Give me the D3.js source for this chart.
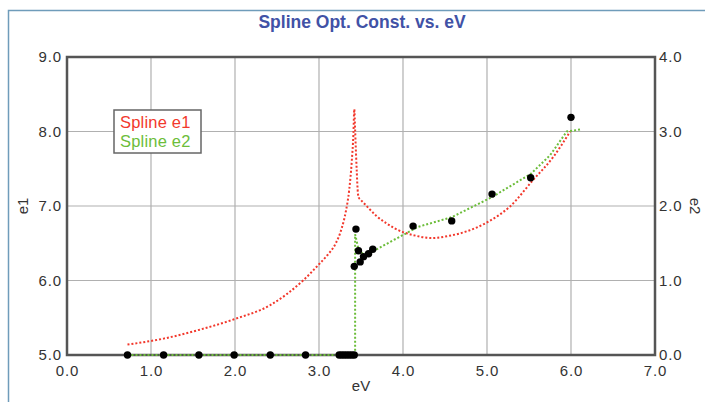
<!DOCTYPE html>
<html>
<head>
<meta charset="utf-8">
<script src="https://cdn.jsdelivr.net/npm/d3@7"></script>
<style>
  html, body { margin: 0; padding: 0; background: #fff; }
  svg { display: block; font-family: "Liberation Sans", Arial, sans-serif; }
</style>
</head>
<body>
<svg id="chart" width="705" height="402"></svg>
<script>
// Measured data points (eV, e2)
const pointEV = [0.72, 1.15, 1.57, 1.99, 2.42, 2.84, 3.24, 3.27, 3.30, 3.33, 3.36, 3.39, 3.42,
                 3.44, 3.42, 3.47, 3.49, 3.53, 3.59, 3.64, 4.12, 4.58, 5.06, 5.52, 6.00];
const pointE2 = [0, 0, 0, 0, 0, 0, 0, 0, 0, 0, 0, 0, 0,
                 1.69, 1.19, 1.40, 1.25, 1.32, 1.36, 1.42, 1.73, 1.80, 2.16, 2.38, 3.19];

// Spline e1 (left axis)
const splineE1EV = [0.72, 1.15, 1.58, 1.99, 2.42, 2.81, 3.01, 3.10, 3.20, 3.27, 3.32, 3.36,
                    3.39, 3.41, 3.42, 3.43, 3.44, 3.45, 3.46, 3.47, 3.50, 3.55, 3.60, 3.69,
                    3.80, 3.90, 4.00, 4.12, 4.34, 4.55, 4.76, 5.00, 5.27, 5.55, 5.79, 5.99];
const splineE1 = [5.14, 5.22, 5.34, 5.48, 5.67, 6.00, 6.23, 6.34, 6.50, 6.70, 6.93, 7.22,
                  7.60, 7.98, 8.30, 8.02, 7.72, 7.45, 7.22, 7.12, 7.08, 7.02, 6.96, 6.86,
                  6.77, 6.70, 6.65, 6.61, 6.57, 6.60, 6.66, 6.78, 6.99, 7.35, 7.66, 8.00];

// Spline e2 (right axis)
const splineE2EV = [0.72, 3.43, 3.43, 3.47, 3.52, 3.60, 3.69, 3.85, 4.00, 4.18, 4.58, 5.06,
                    5.52, 5.75, 5.95, 6.13];
const splineE2 = [0, 0, 1.62, 1.42, 1.36, 1.38, 1.42, 1.52, 1.61, 1.72, 1.85, 2.12,
                  2.43, 2.68, 3.00, 3.03];

const xTicks = [0, 1, 2, 3, 4, 5, 6, 7];
const e1Ticks = [5, 6, 7, 8, 9];
const e2Ticks = [0, 1, 2, 3, 4];

const svg = d3.select("#chart");
const plotL = 67, plotR = 655, plotT = 57, plotB = 355;

const x = d3.scaleLinear().domain([0, 7]).range([plotL, plotR]);
const y1 = d3.scaleLinear().domain([5, 9]).range([plotB, plotT]);
const y2 = d3.scaleLinear().domain([0, 4]).range([plotB, plotT]);

// outer panel frame
svg.append("path")
  .attr("d", "M8.5,402 L8.5,10.5 L705,10.5")
  .attr("fill", "none").attr("stroke", "#6f9cba").attr("stroke-width", 1.5);

// title
svg.append("text")
  .attr("x", 362).attr("y", 28)
  .attr("text-anchor", "middle")
  .attr("font-size", 17.5).attr("font-weight", "bold")
  .attr("fill", "#4152a6")
  .text("Spline Opt. Const. vs. eV");

// grid
const grid = svg.append("g").attr("stroke", "#b0b0b0").attr("stroke-width", 1.2);
grid.selectAll("line.v").data(xTicks.slice(1, -1)).join("line")
  .attr("class", "v")
  .attr("x1", d => x(d)).attr("x2", d => x(d))
  .attr("y1", plotT).attr("y2", plotB);
grid.selectAll("line.h").data(e1Ticks.slice(1, -1)).join("line")
  .attr("class", "h")
  .attr("y1", d => y1(d)).attr("y2", d => y1(d))
  .attr("x1", plotL).attr("x2", plotR);

// axes
const tickFmt = d3.format(".1f");
const axisStyle = g => {
  g.select(".domain").remove();
  g.selectAll(".tick line").remove();
  g.selectAll(".tick text")
    .attr("font-size", 15)
    .attr("letter-spacing", 0.9)
    .attr("fill", "#333")
    .attr("font-family", "Liberation Sans, Arial, sans-serif");
};
svg.append("g")
  .attr("transform", `translate(0,${plotB})`)
  .call(d3.axisBottom(x).tickValues(xTicks).tickFormat(tickFmt).tickSize(0).tickPadding(10))
  .call(axisStyle);
svg.append("g")
  .attr("transform", `translate(${plotL},0)`)
  .call(d3.axisLeft(y1).tickValues(e1Ticks).tickFormat(tickFmt).tickSize(0).tickPadding(5))
  .call(axisStyle);
svg.append("g")
  .attr("transform", `translate(${plotR},0)`)
  .call(d3.axisRight(y2).tickValues(e2Ticks).tickFormat(tickFmt).tickSize(0).tickPadding(4))
  .call(axisStyle);

// plot frame
svg.append("rect")
  .attr("x", plotL).attr("y", plotT)
  .attr("width", plotR - plotL).attr("height", plotB - plotT)
  .attr("fill", "none").attr("stroke", "#555").attr("stroke-width", 2.5);

// axis titles
svg.append("text").attr("x", x(3.5)).attr("y", 391)
  .attr("text-anchor", "middle").attr("font-size", 15).attr("fill", "#333").text("eV");
svg.append("text").attr("transform", `translate(28,${y1(7)}) rotate(-90)`)
  .attr("text-anchor", "middle").attr("font-size", 15).attr("fill", "#333").text("e1");
svg.append("text").attr("transform", `translate(690,${y2(2)}) rotate(90)`)
  .attr("text-anchor", "middle").attr("font-size", 15).attr("fill", "#333").text("e2");

// spline curves
const e1Line = d3.line()
  .x((d, i) => x(splineE1EV[i])).y(d => y1(d))
  .curve(d3.curveMonotoneX);
svg.append("path")
  .attr("d", e1Line(splineE1))
  .attr("fill", "none").attr("stroke", "#f2382c")
  .attr("stroke-width", 2).attr("stroke-dasharray", "2,2");

const e2Line = d3.line()
  .x((d, i) => x(splineE2EV[i])).y(d => y2(d));
svg.append("path")
  .attr("d", e2Line(splineE2))
  .attr("fill", "none").attr("stroke", "#6cbd3a")
  .attr("stroke-width", 2).attr("stroke-dasharray", "2,2");

// data points
svg.append("g").selectAll("circle").data(pointE2).join("circle")
  .attr("cx", (d, i) => x(pointEV[i])).attr("cy", d => y2(d))
  .attr("r", 3.7).attr("fill", "#000");

// legend
const lg = svg.append("g");
lg.append("rect").attr("x", 114).attr("y", 110).attr("width", 87).attr("height", 43)
  .attr("fill", "#fff").attr("stroke", "#666").attr("stroke-width", 1.5);
lg.append("text").attr("x", 120).attr("y", 128).attr("font-size", 16.5)
  .attr("letter-spacing", 0.2).attr("fill", "#f2382c").text("Spline e1");
lg.append("text").attr("x", 120).attr("y", 147).attr("font-size", 16.5)
  .attr("letter-spacing", 0.2).attr("fill", "#6cbd3a").text("Spline e2");
</script>
</body>
</html>
